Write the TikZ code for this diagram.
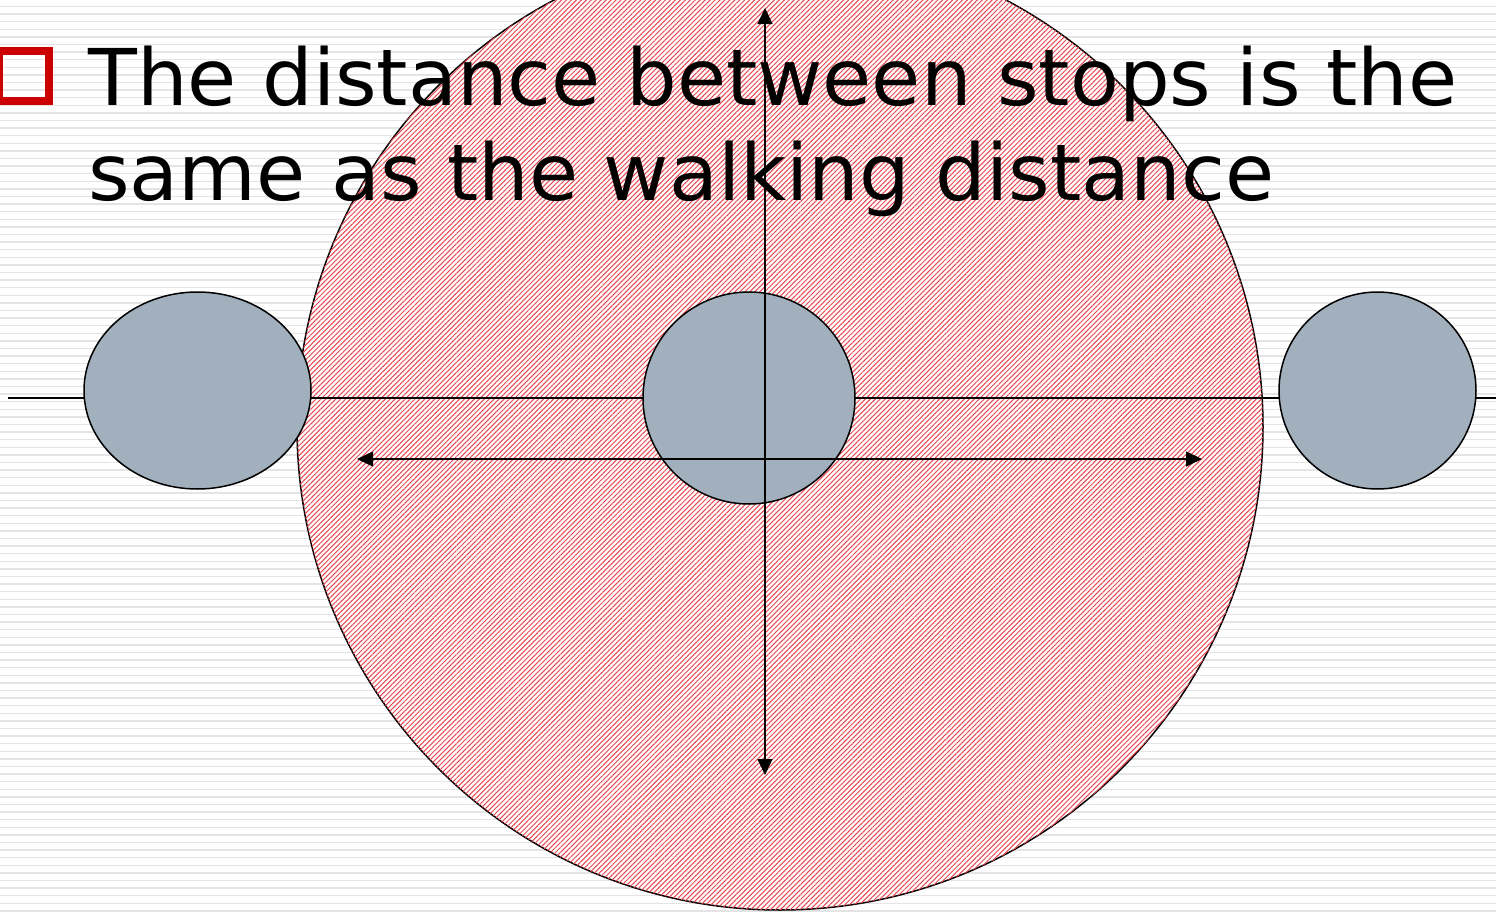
\documentclass[tikz,border=0pt]{standalone}
\usepackage{fontspec}
\setmainfont{DejaVu Sans}
\newfontfamily\slidefont[FakeStretch=1.02]{DejaVu Sans}
\usetikzlibrary{arrows.meta,patterns.meta,shapes.geometric}
\definecolor{BulletRed}{RGB}{204,0,0}
\definecolor{StopGrey}{RGB}{162,176,190}
\definecolor{HatchRed}{RGB}{232,72,80}
\definecolor{RuleGrey}{RGB}{228,228,228}

\begin{document}
\begin{tikzpicture}[x=0.6pt,y=-0.6pt,>={Triangle[length=9.6pt,width=9pt]},
    bgline/.style={RuleGrey,line width=0.8pt},
    catch/.style={circle,draw,line width=0.9pt,fill=white,inner sep=0pt,
      postaction={pattern={Lines[angle=45,distance=2.1pt,line width=0.6pt]},
        pattern color=HatchRed}},
    stop/.style={ellipse,draw,line width=0.9pt,fill=StopGrey,inner sep=0pt},
    road/.style={line width=0.9pt},
    walk/.style={<->,line width=0.9pt},
    heading/.style={anchor=base west,inner sep=0pt,font=\slidefont\fontsize{47}{57}\selectfont}]
  \useasboundingbox (0,0) rectangle (1496,913);
  % striped slide background
  \fill[white] (0,0) rectangle (1496,913);
  \foreach \y in {6.5,14.1,...,913}
    \draw[bgline] (0,\y) -- (1496,\y);
  % walking catchment
  \node[catch,minimum size=579.6pt] (catchArea) at (780,427) {};
  % the route
  \coordinate (roadW) at (8,398);
  \coordinate (roadE) at (1496,398);
  \draw[road] (roadW) -- (roadE);
  % stops
  \node[stop,minimum width=136.2pt,minimum height=118.2pt] (stopL) at (197.5,390.5) {};
  \node[stop,minimum width=127.2pt,minimum height=127.2pt] (stopM) at (749,398) {};
  \node[stop,minimum width=118.2pt,minimum height=118.2pt] (stopR) at (1377.5,390.5) {};
  % walking distances
  \coordinate (walkN) at (765,8);
  \coordinate (walkS) at (765,775);
  \coordinate (spanW) at (357,459);
  \coordinate (spanE) at (1202,459);
  \draw[walk] (walkN) -- (walkS);
  \draw[walk] (spanW) -- (spanE);
  % heading
  \node[draw=BulletRed,line width=4.6pt,minimum size=30.2pt,inner sep=0pt] (bullet) at (24,76) {};
  \node[heading] (lineA) at (88,105) {The distance between stops is the};
  \node[heading] (lineB) at (88,200) {same as the walking distance};
\end{tikzpicture}
\end{document}
